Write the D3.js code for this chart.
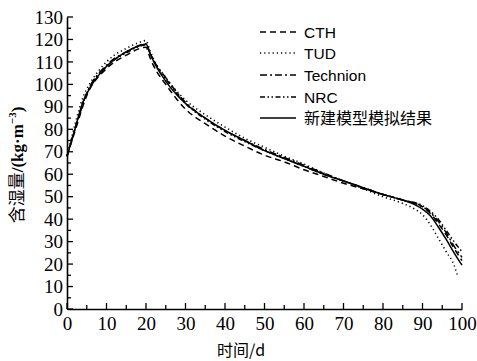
<!DOCTYPE html>
<html><head><meta charset="utf-8">
<script src="https://cdn.jsdelivr.net/npm/d3@7"></script>
<style>body{margin:0;background:#fff}svg{display:block}
.serif{font-family:"Liberation Serif","Times New Roman","DejaVu Serif",serif}
</style>
</head><body>
<script>
const xTicks = [0,10,20,30,40,50,60,70,80,90,100];
const yTicks = [0,10,20,30,40,50,60,70,80,90,100,110,120,130];
const seriesNames = ["CTH","TUD","Technion","NRC","新建模型模拟结果"];

const cthT = [0,2,5,10,15,20,21,22,25,30,35,40,45,50,55,60,65,70,75,80,85,90,92,94,96,98,100];
const cthV = [68,79,95,107,113,116.5,112,108,100,89,82.5,77,72.5,68.5,65.5,62,59,56,53.5,51,48.5,45.5,42.5,38,33,27,21.5];
const tudT = [0,2,4,6,8,10,12,15,18,20,21,22,25,30,35,40,45,50,55,60,65,70,75,80,85,88,90,92,94,96,98,99];
const tudV = [68,82,94,101,106,110,113,116,118.5,119.5,115,111,103,93,86.5,81,76,72,68,64.5,60.5,57,53.5,50,47,44.5,42,37.5,31.5,25.5,19.5,14];
const techT = [0,2,5,10,15,20,21,22,25,30,35,40,45,50,55,60,65,70,75,80,85,90,92,94,96,98,100];
const techV = [68,80,96,108.5,114.5,118,114,110.5,103,92,85,79.5,75,71,67.5,64,60.5,57,54,51,48.5,45.5,43,39,34,28,23];
const nrcT = [0,2,5,10,15,20,21,22,25,30,35,40,45,50,55,60,65,70,75,80,85,90,92,94,96,98,100];
const nrcV = [68,80,96,108,114,117.5,114,110,102.5,91.5,84.5,79,74.5,70.5,67,63.5,60,57,54,51,48.5,46,43.5,40,35,30,25.5];
const newT = [0,2,4,6,8,10,12,14,16,18,20,21,22,24,26,28,30,35,40,45,50,55,60,65,70,75,80,85,88,90,92,94,96,98,100];
const newV = [68,80,92,99,104,108,111,113.5,115.5,117,118,114,110,104,99,95,91.5,85,79.5,75,70.5,67,63.5,60,57,54,51,48.5,46.5,44.5,41.5,36.5,31,25,19.5];

const dashes = ["6,4","1.2,3","7,3,2,3","5,2.5,1.5,2.5,1.5,2.5",null];
const seriesT = [cthT,tudT,techT,nrcT,newT];
const seriesV = [cthV,tudV,techV,nrcV,newV];

const W=477,H=361;
const svg=d3.select("body").append("svg").attr("width",W).attr("height",H);
const x=d3.scaleLinear().domain([0,100]).range([67,462]);
const y=d3.scaleLinear().domain([0,130]).range([309,17]);

// axes
const xAxis=d3.axisBottom(x).tickValues(xTicks).tickSize(0).tickPadding(8).tickFormat(d3.format("d"));
const gx=svg.append("g").attr("transform","translate(0,309)").call(xAxis);
gx.attr("font-family",null).attr("font-size",null).classed("serif",true);
gx.select(".domain").attr("stroke","#000").attr("stroke-width",1.6);
gx.selectAll("text").attr("class","serif").style("font-size","19px").attr("fill","#000");
const yAxis=d3.axisLeft(y).tickValues(yTicks).tickSize(0).tickPadding(4).tickFormat(d3.format("d"));
const gy=svg.append("g").attr("transform","translate(67,0)").call(yAxis);
gy.attr("font-family",null).attr("font-size",null).classed("serif",true);
gy.select(".domain").attr("stroke","#000").attr("stroke-width",1.6);
gy.selectAll("text").attr("class","serif").style("font-size","19px").attr("fill","#000");

// inward ticks
const tg=svg.append("g").attr("stroke","#000").attr("stroke-width",1.3);
d3.range(0,101,5).forEach(v=>{
  const L = v%10===0?6:4;
  tg.append("line").attr("x1",x(v)).attr("x2",x(v)).attr("y1",309).attr("y2",309-L);
});
d3.range(0,131,5).forEach(v=>{
  const L = v%10===0?6:4;
  tg.append("line").attr("x1",67).attr("x2",67+L).attr("y1",y(v)).attr("y2",y(v));
});

// lines
const line=d3.line().curve(d3.curveMonotoneX);
seriesT.forEach((T,i)=>{
  const pts=T.map((t,j)=>[x(t),y(seriesV[i][j])]);
  svg.append("path").attr("d",line(pts)).attr("fill","none").attr("stroke","#000")
    .attr("stroke-width",i===1?1.6:1.5).attr("stroke-dasharray",dashes[i]);
});

// legend
const ly=[32,53,75,97,118];
seriesNames.forEach((n,i)=>{
  svg.append("line").attr("x1",260).attr("x2",296).attr("y1",ly[i]).attr("y2",ly[i])
    .attr("stroke","#000").attr("stroke-width",i===1?1.6:1.5).attr("stroke-dasharray",dashes[i]);
  svg.append("text").attr("x",304).attr("y",ly[i]+5.5).text(n)
    .style("font-family", i===4?"'Noto Sans CJK SC',sans-serif":"'Liberation Sans',Arial,sans-serif")
    .style("font-size",i===4?"16px":"15.5px").attr("fill","#000");
});

// axis titles
svg.append("text").attr("x",241).attr("y",356).attr("text-anchor","middle")
  .style("font-family","'Noto Sans CJK SC',sans-serif").style("font-size","16px").attr("fill","#000")
  .text("时间/d");
const yt=svg.append("text").attr("transform","translate(23,165) rotate(-90)").attr("text-anchor","middle")
  .attr("class","serif").style("font-size","17px").attr("fill","#000").style("font-weight","bold");
yt.append("tspan").style("font-family","'Noto Sans CJK SC',sans-serif").style("font-weight","normal").text("含湿量");
yt.append("tspan").text("/(kg·m");
yt.append("tspan").attr("dy",-7).style("font-size","11px").text("−3");
yt.append("tspan").attr("dy",7).text(")");
</script>
</body></html>
